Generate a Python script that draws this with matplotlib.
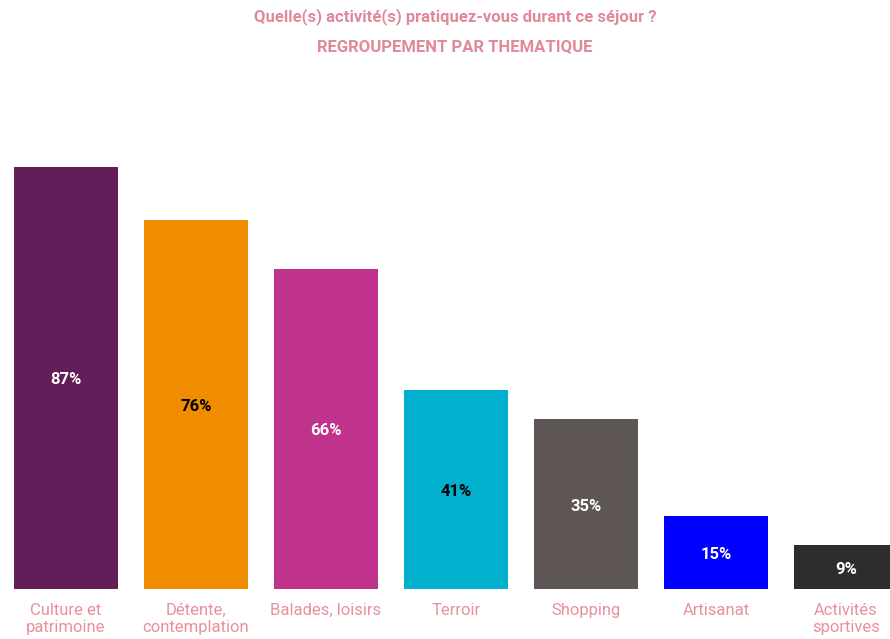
import matplotlib
matplotlib.use("Agg")
import matplotlib.pyplot as plt

categories = ["Culture et\npatrimoine", "Détente,\ncontemplation", "Balades, loisirs",
              "Terroir", "Shopping", "Artisanat", "Activités\nsportives"]
values = [87, 76, 66, 41, 35, 15, 9]
bar_colors = ["#621e58", "#f08c00", "#c0338c", "#00b0cc", "#5e5655", "#0000ff", "#2d2d2d"]
label_colors = ["white", "black", "white", "black", "white", "white", "white"]

plt.rcParams['font.family'] = ['Roboto', 'DejaVu Sans']

W, H = 890, 639
fig = plt.figure(figsize=(W/100, H/100), dpi=100)
# axes in pixel coordinates: bar centers at 66 + 130*i, baseline at y=589
left_px = 66 - 65
width_px = 130 * 7
bottom_px = H - 589
height_px = 485
ax = fig.add_axes([left_px/W, bottom_px/H, width_px/W, height_px/H])
x = range(len(values))
bars = ax.bar(x, values, width=0.8, color=bar_colors)
ax.set_xlim(-0.5, 6.5)
ax.set_ylim(0, 100)
for i, (v, c) in enumerate(zip(values, label_colors)):
    ax.text(i, v/2 - 0.4, f"{v}%", ha="center", va="center", color=c,
            fontsize=12, fontweight="bold")
ax.set_xticks(list(x))
ax.set_xticklabels(categories, fontsize=12, color="#e8909c", linespacing=1.2)
ax.tick_params(axis="x", length=0, pad=10)
ax.set_yticks([])
for s in ax.spines.values():
    s.set_visible(False)

tc = "#e0899a"
fig.text(455/W, 1 - 17/H, "Quelle(s) activité(s) pratiquez-vous durant ce séjour ?",
         ha="center", va="center", color=tc, fontsize=12, fontweight="bold")
fig.text(455/W, 1 - 47/H, "REGROUPEMENT PAR THEMATIQUE",
         ha="center", va="center", color=tc, fontsize=12, fontweight="bold")

fig.savefig("out.png", dpi=100)
